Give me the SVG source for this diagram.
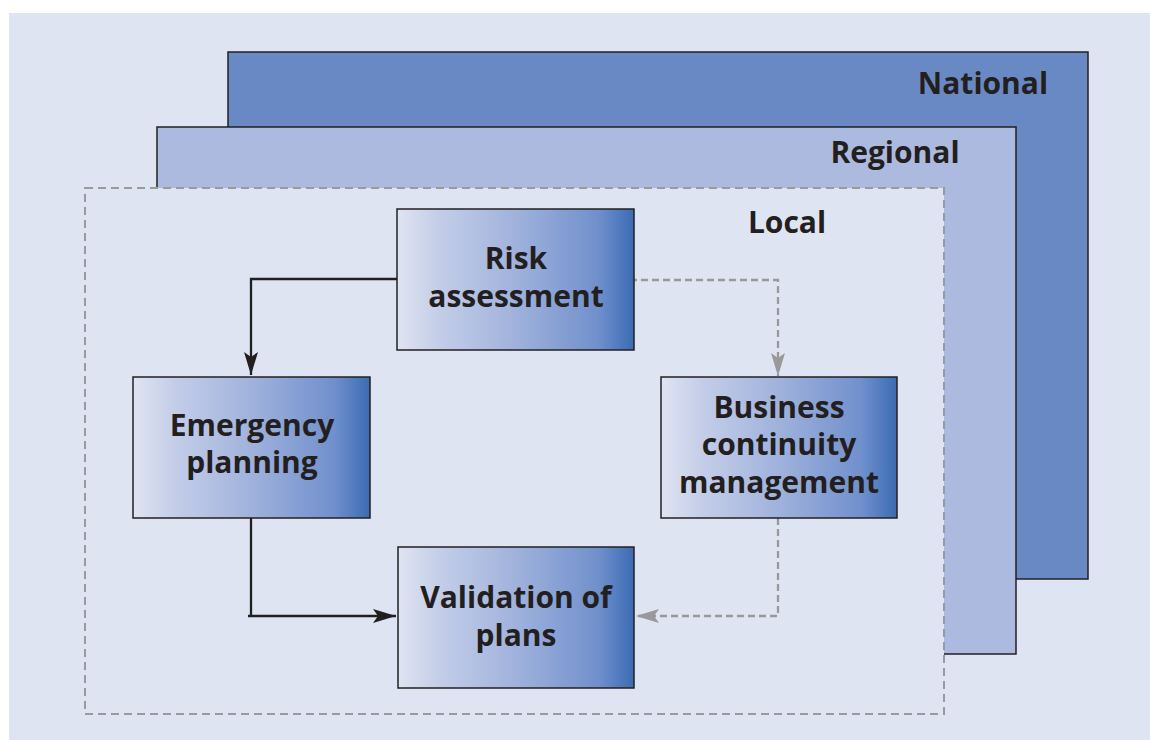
<svg xmlns="http://www.w3.org/2000/svg" width="1150" height="740" viewBox="0 0 1150 740">
<defs>
<linearGradient id="boxGrad" x1="0" y1="0" x2="1" y2="0">
<stop offset="0" stop-color="#dfe4f1"/>
<stop offset="0.18" stop-color="#c3cde8"/>
<stop offset="0.5" stop-color="#a0b2dc"/>
<stop offset="0.85" stop-color="#7090cc"/>
<stop offset="1" stop-color="#3a6bb4"/>
</linearGradient>
<marker id="arrowBlack" markerUnits="userSpaceOnUse" markerWidth="26" markerHeight="16" refX="23" refY="7" orient="auto">
<path d="M0,0 L23,7 L0,14 L5,7 z" fill="#231f20"/>
</marker>
<marker id="arrowGray" markerUnits="userSpaceOnUse" markerWidth="26" markerHeight="16" refX="23" refY="7" orient="auto">
<path d="M0,0 L23,7 L0,14 L5,7 z" fill="#999999"/>
</marker>
</defs>
<style>
.lbl{font-family:"Open Sans","Noto Sans","Liberation Sans",sans-serif;font-weight:bold;font-size:30px;fill:#231f20;text-anchor:middle}
.box{fill:url(#boxGrad);stroke:#231f20;stroke-width:1.5}
.solid{fill:none;stroke:#231f20;stroke-width:2.3}
.dash{fill:none;stroke:#999999;stroke-width:2.3;stroke-dasharray:7 4}
</style>
<rect x="0" y="0" width="1150" height="740" fill="#ffffff"/>
<rect x="9" y="13" width="1141" height="727" fill="#dfe4f2"/>
<g id="national">
<rect x="228" y="52" width="860" height="527" fill="#6989c5" stroke="#231f20" stroke-width="1.5"/>
<text class="lbl" x="983" y="94">National</text>
</g>
<g id="regional">
<rect x="157" y="127" width="859" height="527" fill="#adbadf" stroke="#231f20" stroke-width="1.5"/>
<text class="lbl" x="895" y="163">Regional</text>
</g>
<g id="local">
<rect x="85" y="188" width="859" height="526" fill="#dfe4f2" stroke="#9a9a9a" stroke-width="2" stroke-dasharray="8 5"/>
<text class="lbl" x="787" y="233">Local</text>
</g>
<g id="connectors">
<path class="solid" d="M397,279 H251 V375" marker-end="url(#arrowBlack)"/>
<path class="solid" d="M251,518 V616 M248,616 H396" marker-end="url(#arrowBlack)"/>
<path class="dash" d="M630,280 H778 V376" marker-end="url(#arrowGray)"/>
<path class="dash" d="M778,518 V616 H636" marker-end="url(#arrowGray)"/>
</g>
<g id="risk-assessment">
<rect class="box" x="397" y="209" width="237" height="141"/>
<text class="lbl" x="516" y="269">Risk</text>
<text class="lbl" x="516" y="307">assessment</text>
</g>
<g id="emergency-planning">
<rect class="box" x="133" y="377" width="237" height="141"/>
<text class="lbl" x="252" y="436">Emergency</text>
<text class="lbl" x="252" y="473">planning</text>
</g>
<g id="business-continuity">
<rect class="box" x="661" y="377" width="236" height="141"/>
<text class="lbl" x="779" y="418">Business</text>
<text class="lbl" x="779" y="455">continuity</text>
<text class="lbl" x="779" y="493">management</text>
</g>
<g id="validation">
<rect class="box" x="398" y="547" width="236" height="141"/>
<text class="lbl" x="516" y="608">Validation of</text>
<text class="lbl" x="516" y="646">plans</text>
</g>
</svg>
